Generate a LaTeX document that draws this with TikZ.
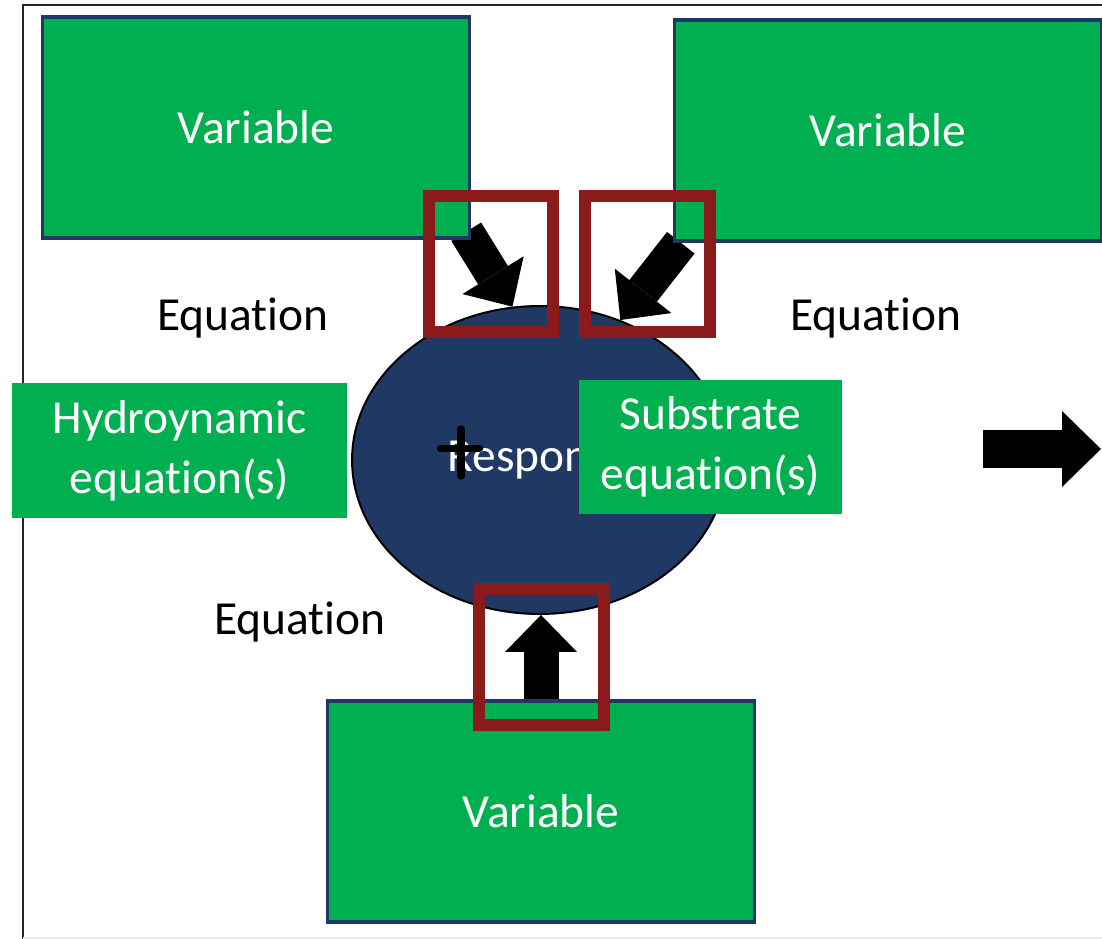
\documentclass[tikz,border=0pt]{standalone}
\usepackage{fontspec}
\setmainfont{Carlito}[Ligatures=NoCommon]
\usetikzlibrary{arrows.meta, shapes.geometric, backgrounds}
\definecolor{cgreen}{HTML}{00B050}
\definecolor{cnavy}{HTML}{1F3864}
\definecolor{cdark}{HTML}{203864}
\definecolor{cred}{HTML}{8B1A1A}
\tikzset{
  every picture/.style={font=\fontsize{27}{34}\selectfont},
  varbox/.style={draw=cnavy, fill=cgreen, line width=0.07cm, minimum width=8.54cm, minimum height=4.42cm, text=white, inner sep=0pt},
  eqbox/.style={fill=cgreen, text=white, align=center, inner sep=0pt},
  blockarrow/.style={draw=black, line width=0.7cm, -{Triangle[length=0.74cm, width=1.44cm, line width=0pt]}},
  hlbox/.style={draw=cred, line width=0.24cm, minimum width=2.49cm, minimum height=2.71cm, inner sep=0pt},
}

\begin{document}
\begin{tikzpicture}[x=0.02cm, y=-0.02cm]
  \useasboundingbox (0,0) rectangle (1102,939);
  \clip (0,0) rectangle (1102,939);
  % frame
  \draw[line width=0.05cm, black!85] (23,960) |- (1120,5);
  \draw[line width=0.04cm, black!8] (23,937.5) -- (1102,937.5);
  % variables and response
  \node[varbox] (var1) at (256,127.5) {Variable};
  \node[varbox] (var2) at (888,130.5) {Variable};
  \node[varbox] (var3) at (541,811.5) {Variable};
  \node[ellipse, draw=black, fill=cdark, line width=0.04cm, minimum width=7.5cm, minimum height=6.16cm, text=white, inner sep=0pt] (resp) at (539.5,460) {Response};
  \draw[line width=0.15cm, line cap=round] (440.5,448.5) -- (479.5,448.5) (461,429) -- (461,476);
  % equations
  \node[eqbox, minimum width=6.7cm, minimum height=2.7cm] (hydro) at (179.5,450.5) {Hydroynamic\\equation(s)};
  \node[eqbox, minimum width=5.26cm, minimum height=2.68cm] (subst) at (710.5,447) {Substrate\\equation(s)};
  \node (eq1) at (243,318) {Equation};
  \node (eq2) at (876,318) {Equation};
  \node (eq3) at (300,622) {Equation};
  % arrows behind the boxes
  \begin{scope}[on background layer]
    \draw[blockarrow] ([shift={(-5,-8)}]var1.south east) -- (resp.100);
    \draw[blockarrow] ([shift={(8,0)}]var2.south west) -- (resp.60);
    \draw[blockarrow] (var3.north) -- (var3.north |- resp.south);
    \coordinate (out0) at (983,449);
    \coordinate (out1) at (1101,449);
    \draw[blockarrow, line width=0.76cm, -{Triangle[length=0.78cm, width=1.52cm, line width=0pt]}] (out0) -- (out1);
  \end{scope}
  % highlights
  \node[hlbox] (hl1) at (491,264) {};
  \node[hlbox] (hl2) at (647.5,264) {};
  \node[hlbox] (hl3) at (541.5,657) {};
\end{tikzpicture}
\end{document}
